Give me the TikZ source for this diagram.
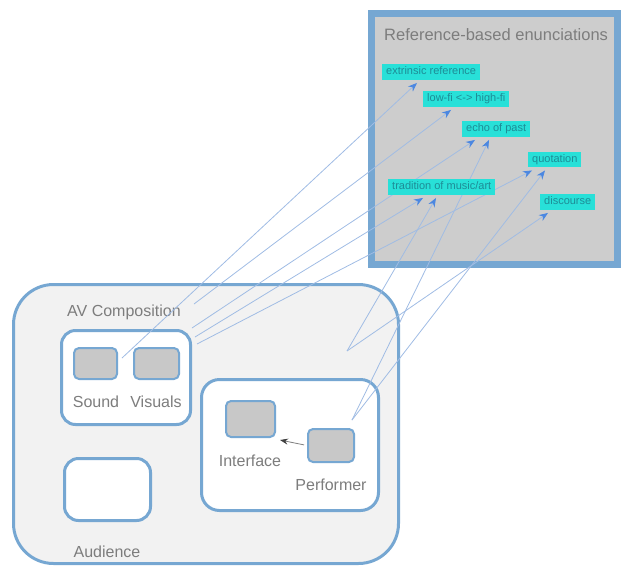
\documentclass[tikz,border=0pt]{standalone}
\usepackage{fontspec}
\setmainfont{Liberation Sans}
\usetikzlibrary{calc,arrows.meta}

\definecolor{frameblue}{RGB}{118,167,210}
\definecolor{linkblue}{RGB}{160,188,228}
\definecolor{tipblue}{RGB}{75,135,225}
\definecolor{tagcyan}{RGB}{40,224,216}
\definecolor{tagtext}{RGB}{30,140,150}
\definecolor{labgray}{RGB}{125,125,125}
\definecolor{unitgray}{RGB}{200,200,200}
\definecolor{areagray}{RGB}{242,242,242}
\definecolor{panelgray}{RGB}{205,205,205}

\pgfdeclarelayer{fore}
\pgfsetlayers{main,fore}

\tikzset{
	group/.style={draw=frameblue,line width=3pt,fill=white,rounded corners=14pt,inner sep=0pt},
	unit/.style={draw=frameblue,line width=2pt,fill=unitgray,rounded corners=5pt,inner sep=0pt},
	lab/.style={text=labgray,font=\fontsize{16}{18}\selectfont,inner sep=0pt},
	tag/.style={fill=tagcyan,text=tagtext,font=\fontsize{11}{12}\selectfont,inner xsep=4pt,inner ysep=2.5pt,text height=8pt,text depth=2.5pt,anchor=west},
	link/.style={draw=linkblue,line width=0.8pt,-{Stealth[length=9pt,width=7pt,color=tipblue]}},
	ptr/.style={draw=gray,line width=0.8pt,-{Stealth[length=8pt,width=6pt,color=darkgray]},shorten <=3pt}
}

\begin{document}
\begin{tikzpicture}[x=1pt,y=-1pt]
	\useasboundingbox (0,0) rectangle (623,570);
	%enunciations
	\node[draw=frameblue,line width=7pt,fill=panelgray,minimum width=246pt,minimum height=251pt,inner sep=0pt] (panel) at (494.5,139) {};
	\node[lab,anchor=west,font=\fontsize{16.5}{18}\selectfont] (title) at (384,35) {Reference-based enunciations};
	%AV composition
	\node[group,fill=areagray,rounded corners=40pt,minimum width=385pt,minimum height=279pt] (av) at (206,424) {};
	\node[lab,anchor=west] (avlab) at (67,312) {AV Composition};
	\node[group,minimum width=129pt,minimum height=94pt] (sv) at (126,377.5) {};
	\node[unit,minimum width=43pt,minimum height=31pt] (sound) at (95.5,363.5) {};
	\node[unit,minimum width=45pt,minimum height=31pt] (visuals) at (156.5,363.5) {};
	\node[lab] (soundlab) at (96,402) {Sound};
	\node[lab] (vislab) at (156,402) {Visuals};
	\node[group,rounded corners=18pt,minimum width=177pt,minimum height=131pt] (pg) at (290,445) {};
	\node[unit,minimum width=49pt,minimum height=36pt] (iface) at (250.5,419) {};
	\node[unit,minimum width=46pt,minimum height=33pt] (perf) at (331,445.5) {};
	\node[lab] (ifacelab) at (250,461) {Interface};
	\node[lab] (perflab) at (331,485) {Performer};
	\node[group,minimum width=86pt,minimum height=62pt] (aud) at (107.5,489.5) {};
	\node[lab] (audlab) at (107,552) {Audience};
	\draw[ptr] (perf.west) -- ($(iface.south east)+(4,2)$);
	%tags
	\begin{pgfonlayer}{fore}
		\node[tag] (ext) at (382,72) {extrinsic reference};
		\node[tag] (lowfi) at (423,99) {low-fi <-> high-fi};
		\node[tag] (echo) at (462,129) {echo of past};
		\node[tag] (quot) at (528,159.5) {quotation};
		\node[tag] (trad) at (388,187) {tradition of music/art};
		\node[tag] (disc) at (540,202) {discourse};
	\end{pgfonlayer}
	%ends of links
	\coordinate (sndsrc) at (122,358);
	\coordinate (avsrc) at (194,304);
	\coordinate (sv1) at (192,328);
	\coordinate (sv2) at (195,337);
	\coordinate (sv3) at (197,344);
	\coordinate (avmid) at (347,351);
	\coordinate (perfsrc) at (352,420);
	\coordinate (tA) at ($(ext.south west)+(35,3)$);
	\coordinate (tB) at ($(lowfi.south west)+(28,3)$);
	\coordinate (tC) at ($(echo.south west)+(13,3)$);
	\coordinate (tD) at ($(echo.south west)+(27,3)$);
	\coordinate (tE) at ($(quot.south west)+(4,3)$);
	\coordinate (tF) at ($(quot.south west)+(17,3)$);
	\coordinate (tG) at ($(trad.south west)+(35,3)$);
	\coordinate (tH) at ($(trad.south west)+(48,3)$);
	\coordinate (tI) at ($(disc.south west)+(8,3)$);
	\foreach \s/\t in {sndsrc/tA,avsrc/tB,sv1/tC,sv2/tG,sv3/tE,avmid/tH,avmid/tI,perfsrc/tD,perfsrc/tF}{ %links
		\draw[link] (\s) -- (\t);
	}
\end{tikzpicture}
\end{document}
